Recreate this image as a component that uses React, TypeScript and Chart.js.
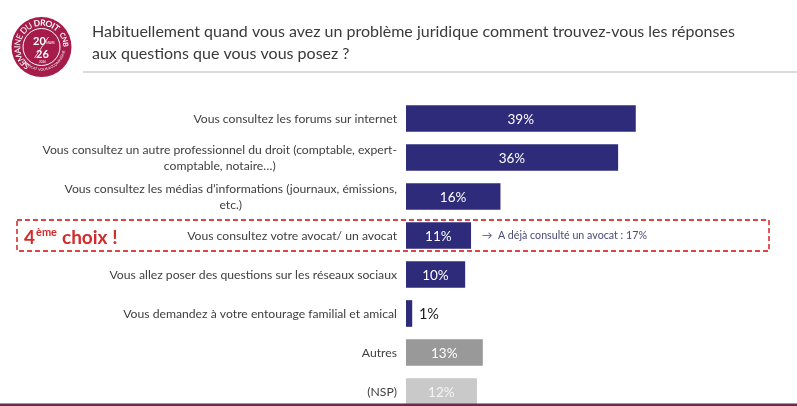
import React, { useEffect, useRef } from "react";
import { Chart, registerables } from "chart.js";

Chart.register(...registerables);

const titleLines = [
  "Habituellement quand vous avez un problème juridique comment trouvez-vous les réponses",
  "aux questions que vous vous posez ?",
];

const categories: string[][] = [
  ["Vous consultez les forums sur internet"],
  ["Vous consultez un autre professionnel du droit (comptable, expert-", "comptable, notaire…)"],
  ["Vous consultez les médias d’informations (journaux, émissions,", "etc.)"],
  ["Vous consultez votre avocat/ un avocat"],
  ["Vous allez poser des questions sur les réseaux sociaux"],
  ["Vous demandez à votre entourage familial et amical"],
  ["Autres"],
  ["(NSP)"],
];

const values = [39, 36, 16, 11, 10, 1, 13, 12];
const valueLabels = values.map((v) => v + "%");

const barColors = [
  "#2f2b7b", "#2f2b7b", "#2f2b7b", "#2f2b7b", "#2f2b7b", "#2f2b7b",
  "#999999", "#c9c9c9",
];
const valueLabelColors = [
  "#ffffff", "#ffffff", "#ffffff", "#ffffff", "#ffffff", "#1a1a1a",
  "#ffffff", "#f4f4f4",
];

const highlightIndex = 3;
const highlightNote = "→  A déjà consulté un avocat : 17%";
const badgeMain = "4";
const badgeSup = "ème";
const badgeTail = "choix !";

const logoTopText = "SEMAINE DU ";
const logoTopBold = "DROIT";
const logoRightText = "CNB";
const logoBottomText = "L'AVOCAT VOUS ACCOMPAGNE";

const FONT = "Lato, 'Open Sans', sans-serif";

function arcText(
  ctx: CanvasRenderingContext2D,
  text: string,
  cx: number,
  cy: number,
  r: number,
  start: number,
  dir: number
): number {
  let a = start;
  for (const ch of text) {
    const w = ctx.measureText(ch).width;
    const half = w / 2 / r;
    a += dir * half;
    ctx.save();
    ctx.translate(cx + r * Math.cos(a), cy + r * Math.sin(a));
    ctx.rotate(dir > 0 ? a + Math.PI / 2 : a - Math.PI / 2);
    ctx.textAlign = "center";
    ctx.textBaseline = "middle";
    ctx.fillText(ch, 0, 0);
    ctx.restore();
    a += dir * half;
  }
  return a;
}

function drawLogo(ctx: CanvasRenderingContext2D) {
  const cx = 41.5;
  const cy = 47;
  ctx.save();
  ctx.fillStyle = "#a51c4b";
  ctx.beginPath();
  ctx.arc(cx, cy, 30, 0, Math.PI * 2);
  ctx.fill();
  ctx.strokeStyle = "#ffffff";
  ctx.lineWidth = 1;
  ctx.beginPath();
  ctx.arc(cx, cy, 18.5, 0, Math.PI * 2);
  ctx.stroke();
  ctx.fillStyle = "#ffffff";
  ctx.font = `8.5px ${FONT}`;
  let a = arcText(ctx, logoTopText, cx, cy, 24, Math.PI * 0.68, 1);
  ctx.font = `bold 8.5px ${FONT}`;
  a = arcText(ctx, logoTopBold, cx, cy, 24, a, 1);
  ctx.font = `bold 7px ${FONT}`;
  arcText(ctx, logoRightText, cx, cy, 24, a + 0.18, 1);
  ctx.font = `3.5px ${FONT}`;
  arcText(ctx, logoBottomText, cx, cy, 22.5, Math.PI * 0.8, -1);
  ctx.font = `bold 11px ${FONT}`;
  ctx.textAlign = "center";
  ctx.textBaseline = "middle";
  ctx.fillText("20", cx - 2, cy - 6);
  ctx.fillText("26", cx + 1, cy + 7);
  ctx.beginPath();
  ctx.moveTo(cx + 7, cy - 10);
  ctx.lineTo(cx - 7, cy + 11);
  ctx.lineWidth = 0.8;
  ctx.stroke();
  ctx.font = `3px ${FONT}`;
  ctx.fillText("MARS", cx + 9, cy - 4);
  ctx.fillText("2026", cx + 1, cy + 15);
  ctx.restore();
}

const customPlugin = {
  id: "customDraw",
  afterDatasetsDraw(chart: any) {
    const ctx: CanvasRenderingContext2D = chart.ctx;
    const meta = chart.getDatasetMeta(0);
    const yScale = chart.scales.y;
    const area = chart.chartArea;

    // header
    drawLogo(ctx);
    ctx.save();
    ctx.fillStyle = "#3a3a3a";
    ctx.font = `16px ${FONT}`;
    ctx.textAlign = "left";
    ctx.textBaseline = "alphabetic";
    ctx.fillText(titleLines[0], 92, 37);
    ctx.fillText(titleLines[1], 92, 58.5);
    ctx.strokeStyle = "#cfcfcf";
    ctx.lineWidth = 1.5;
    ctx.beginPath();
    ctx.moveTo(83, 72);
    ctx.lineTo(797, 72);
    ctx.stroke();
    ctx.restore();

    // category labels
    ctx.save();
    ctx.font = `12.2px ${FONT}`;
    ctx.fillStyle = "#404040";
    ctx.textBaseline = "middle";
    ctx.textAlign = "center";
    categories.forEach((lines, i) => {
      const cy = yScale.getPixelForValue(i);
      const maxW = Math.max(...lines.map((l) => ctx.measureText(l).width));
      const right = area.left - 9;
      const lh = 16.5;
      lines.forEach((l, j) => {
        const ly = cy + (j - (lines.length - 1) / 2) * lh;
        ctx.fillText(l, right - maxW / 2, ly + 0.5);
      });
    });
    ctx.restore();

    // value labels
    meta.data.forEach((bar: any, i: number) => {
      const { x, y, base } = bar.getProps(["x", "y", "base"], true);
      const w = x - base;
      ctx.save();
      ctx.textBaseline = "middle";
      if (w > 30) {
        ctx.fillStyle = valueLabelColors[i];
        ctx.font = `13.5px ${FONT}`;
        ctx.textAlign = "center";
        ctx.fillText(valueLabels[i], (x + base) / 2, y + 1);
      } else {
        ctx.fillStyle = valueLabelColors[i];
        ctx.font = `14.5px ${FONT}`;
        ctx.textAlign = "left";
        ctx.fillText(valueLabels[i], x + 7, y + 1);
      }
      ctx.restore();
    });

    // highlight box
    const hy = yScale.getPixelForValue(highlightIndex);
    const hbar = meta.data[highlightIndex];
    ctx.save();
    ctx.strokeStyle = "#e04545";
    ctx.lineWidth = 1.8;
    ctx.setLineDash([5, 3]);
    ctx.strokeRect(17, hy - 15.5, 752, 31);
    ctx.setLineDash([]);
    ctx.fillStyle = "#d42a2a";
    ctx.textBaseline = "alphabetic";
    ctx.textAlign = "left";
    ctx.font = `bold 19px ${FONT}`;
    let bx = 24;
    ctx.fillText(badgeMain, bx, hy + 8);
    bx += ctx.measureText(badgeMain).width + 1;
    ctx.font = `bold 11px ${FONT}`;
    ctx.fillText(badgeSup, bx, hy);
    bx += ctx.measureText(badgeSup).width + 5;
    ctx.font = `bold 19px ${FONT}`;
    ctx.fillText(badgeTail, bx, hy + 8);

    ctx.fillStyle = "#4a4a78";
    ctx.font = `10.7px ${FONT}`;
    ctx.textBaseline = "middle";
    ctx.fillText(highlightNote, hbar.x + 11, hy + 0.5);
    ctx.restore();

    // bottom rule
    ctx.save();
    ctx.fillStyle = "#6e2a4c";
    ctx.fillRect(0, 403.5, 797, 3);
    ctx.restore();
  },
};

export default function App() {
  const ref = useRef<HTMLCanvasElement | null>(null);
  useEffect(() => {
    if (!ref.current) return;
    const chart = new Chart(ref.current, {
      type: "bar",
      data: {
        labels: categories.map((c) => c.join(" ")),
        datasets: [
          {
            data: values,
            backgroundColor: barColors,
            borderWidth: 0,
            barThickness: 26,
          },
        ],
      },
      options: {
        indexAxis: "y",
        animation: false,
        responsive: false,
        layout: { padding: { left: 406, right: 38, top: 99, bottom: 9 } },
        scales: {
          x: { display: false, min: 0, max: 60 },
          y: { display: false },
        },
        plugins: {
          legend: { display: false },
          tooltip: { enabled: false },
        },
      },
      plugins: [customPlugin],
    } as any);
    return () => chart.destroy();
  }, []);
  return (
    <div
      style={{
        position: "fixed",
        left: 0,
        top: 0,
        width: 797,
        height: 406,
        overflow: "hidden",
        background: "#ffffff",
      }}
    >
      <canvas ref={ref} width={797} height={420} style={{ display: "block" }} />
    </div>
  );
}
